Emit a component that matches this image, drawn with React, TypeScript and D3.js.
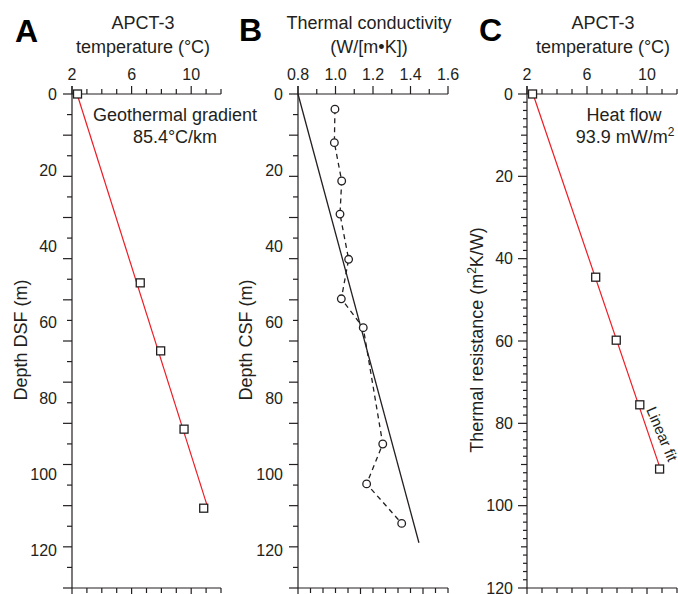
import React, { useRef, useEffect } from 'react';
import * as d3 from 'd3';

// tick labels
const tempTicks = [2, 6, 10];
const condTicks = [0.8, 1.0, 1.2, 1.4, 1.6];
const depthTicks = [0, 20, 40, 60, 80, 100, 120];
const resistTicks = [0, 20, 40, 60, 80, 100, 120];

// APCT-3 measurements
const apctTemp = [2.37, 6.58, 7.95, 9.52, 10.84];
const apctDepth = [0, 49.7, 67.6, 88.2, 109];
const apctResist = [0, 44.5, 59.8, 75.5, 91.1];

// fits
const gradientDepth = [0, 108.2];
const gradientTemp = [2.34, 11.06];
const heatResist = [0, 90.1];
const heatTemp = [2.4, 10.8];

// thermal conductivity
const condDepth = [4.0, 12.8, 22.9, 31.6, 43.5, 53.9, 61.5, 92.1, 102.6, 113.0];
const condValue = [0.997, 0.994, 1.033, 1.024, 1.07, 1.031, 1.148, 1.252, 1.166, 1.353];
const condFitDepth = [0, 118.1];
const condFitValue = [0.8, 1.445];

const INK = '#231f20';
const RED = '#ed1c24';
const FONT = '"Liberation Sans", Arial, Helvetica, sans-serif';

const TOP = 94;
const BOTTOM = 588;

const App = () => {
    const svgRef = useRef<SVGSVGElement>(null);

    useEffect(() => {
        const svg = d3.select(svgRef.current);
        svg.selectAll('*').remove();

        const depthY = d3.scaleLinear().domain([0, 130]).range([TOP, BOTTOM]);
        const resistY = d3.scaleLinear().domain([0, 120]).range([TOP, BOTTOM]);
        // the depth tick marks in A and B are spaced on their own grid
        const depthTickY = d3.scaleLinear().domain([0, 24]).range([TOP, BOTTOM]);

        const xA = d3.scaleLinear().domain([2, 12]).range([72, 221]);
        const xB = d3.scaleLinear().domain([0.8, 1.6]).range([298, 448]);
        const xC = d3.scaleLinear().domain([2, 12]).range([527, 677]);

        const line = (g, x1, y1, x2, y2, w = 1.2) =>
            g.append('line')
                .attr('x1', x1).attr('y1', y1).attr('x2', x2).attr('y2', y2)
                .attr('stroke', INK).attr('stroke-width', w);

        const text = (g, x, y, s, size = 18, anchor = 'middle') =>
            g.append('text')
                .attr('x', x).attr('y', y)
                .attr('text-anchor', anchor)
                .attr('font-size', size)
                .attr('fill', INK)
                .text(s);

        // horizontal axes (top with labels, bottom plain)
        const xAxes = (g, x, minor, labels, fmt, bottomTicks) => {
            const [x0, x1] = x.range();
            line(g, x0, TOP, x1, TOP);
            minor.forEach((v) => {
                const long = labels.some((l) => Math.abs(l - v) < 1e-6);
                line(g, x(v), TOP, x(v), TOP - (long ? 8 : 5));
            });
            labels.forEach((v) => text(g, x(v), 80, fmt(v), 16));
            line(g, x0, BOTTOM, x1, BOTTOM);
            bottomTicks.forEach(([px, long]) => line(g, px, BOTTOM, px, BOTTOM + (long ? 8 : 5)));
        };

        // ---------- panel A ----------
        const gA = svg.append('g');
        text(gA, 15, 42, 'A', 32, 'start').attr('font-weight', 'bold').attr('fill', '#000');
        text(gA, 143, 29, 'APCT-3');
        text(gA, 143, 53, 'temperature (°C)');
        xAxes(gA, xA, d3.range(2, 12.01, 1), tempTicks, (v) => String(v),
            d3.range(2, 12.01, 1).map((v) => [xA(v), tempTicks.includes(v)]));
        line(gA, 72, TOP - 8, 72, BOTTOM);
        d3.range(25).forEach((i) => line(gA, 72, depthTickY(i), 72 - (i % 2 === 0 ? 9 : 5), depthTickY(i)));
        depthTicks.forEach((v) => text(gA, 57, depthY(v), String(v), 16, 'end').attr('dy', '0.35em'));
        gA.append('text')
            .attr('transform', `translate(27,340) rotate(-90)`)
            .attr('text-anchor', 'middle').attr('font-size', 18).attr('fill', INK)
            .text('Depth DSF (m)');

        gA.append('path')
            .attr('d', d3.line()(gradientDepth.map((d, i) => [xA(gradientTemp[i]), depthY(d)])))
            .attr('stroke', RED).attr('stroke-width', 1.2).attr('fill', 'none');
        gA.selectAll('rect.pt').data(apctDepth).enter().append('rect')
            .attr('x', (d, i) => xA(apctTemp[i]) - 4).attr('y', (d) => depthY(d) - 4)
            .attr('width', 8).attr('height', 8)
            .attr('fill', '#fff').attr('stroke', INK).attr('stroke-width', 1.3);
        text(gA, 175, 121, 'Geothermal gradient');
        text(gA, 175, 143, '85.4°C/km');

        // ---------- panel B ----------
        const gB = svg.append('g');
        text(gB, 239, 41, 'B', 32, 'start').attr('font-weight', 'bold').attr('fill', '#000');
        text(gB, 369, 29, 'Thermal conductivity');
        text(gB, 369, 53, '(W/[m•K])');
        const bTicks = d3.scaleLinear().domain([0, 12]).range([298, 448]);
        xAxes(gB, xB, d3.range(8, 16.01, 1).map((v) => v / 10), condTicks, (v) => v.toFixed(1),
            d3.range(13).map((i) => [bTicks(i), i % 5 === 0]));
        line(gB, 298, TOP - 8, 298, BOTTOM);
        d3.range(25).forEach((i) => line(gB, 298, depthTickY(i), 298 - (i % 2 === 0 ? 9 : 5), depthTickY(i)));
        depthTicks.forEach((v) => text(gB, 283, depthY(v), String(v), 16, 'end').attr('dy', '0.35em'));
        gB.append('text')
            .attr('transform', `translate(252,340) rotate(-90)`)
            .attr('text-anchor', 'middle').attr('font-size', 18).attr('fill', INK)
            .text('Depth CSF (m)');

        gB.append('path')
            .attr('d', d3.line()(condFitDepth.map((d, i) => [xB(condFitValue[i]), depthY(d)])))
            .attr('stroke', INK).attr('stroke-width', 1.3).attr('fill', 'none');
        gB.append('path')
            .attr('d', d3.line()(condDepth.map((d, i) => [xB(condValue[i]), depthY(d)])))
            .attr('stroke', INK).attr('stroke-width', 1.3).attr('fill', 'none')
            .attr('stroke-dasharray', '5,4');
        gB.selectAll('circle.pt').data(condDepth).enter().append('circle')
            .attr('cx', (d, i) => xB(condValue[i])).attr('cy', (d) => depthY(d))
            .attr('r', 3.8)
            .attr('fill', '#fff').attr('stroke', INK).attr('stroke-width', 1.3);

        // ---------- panel C ----------
        const gC = svg.append('g');
        text(gC, 479, 41, 'C', 32, 'start').attr('font-weight', 'bold').attr('fill', '#000');
        text(gC, 603, 29, 'APCT-3');
        text(gC, 603, 53, 'temperature (°C)');
        xAxes(gC, xC, d3.range(2, 12.01, 1), tempTicks, (v) => String(v),
            d3.range(2, 12.01, 1).map((v) => [xC(v), tempTicks.includes(v)]));
        line(gC, 527, TOP - 8, 527, BOTTOM);
        d3.range(0, 120.01, 2).forEach((v) => {
            const len = v % 20 === 0 ? 9 : v % 10 === 0 ? 6 : 4;
            line(gC, 527, resistY(v), 527 - len, resistY(v));
        });
        resistTicks.forEach((v) => text(gC, 513, resistY(v), String(v), 16, 'end').attr('dy', '0.35em'));
        const lab = gC.append('text')
            .attr('transform', `translate(483,340) rotate(-90)`)
            .attr('text-anchor', 'middle').attr('font-size', 18).attr('fill', INK);
        lab.append('tspan').text('Thermal resistance (m');
        lab.append('tspan').attr('font-size', 12).attr('dy', -7).text('2');
        lab.append('tspan').attr('dy', 7).text('K/W)');

        gC.append('path')
            .attr('d', d3.line()(heatResist.map((d, i) => [xC(heatTemp[i]), resistY(d)])))
            .attr('stroke', RED).attr('stroke-width', 1.2).attr('fill', 'none');
        gC.selectAll('rect.pt').data(apctResist).enter().append('rect')
            .attr('x', (d, i) => xC(apctTemp[i]) - 4).attr('y', (d) => resistY(d) - 4)
            .attr('width', 8).attr('height', 8)
            .attr('fill', '#fff').attr('stroke', INK).attr('stroke-width', 1.3);
        text(gC, 624, 121, 'Heat flow');
        const hf = text(gC, 625, 143, '93.9 mW/m');
        hf.append('tspan').attr('font-size', 12).attr('dy', -7).text('2');
        gC.append('text')
            .attr('transform', `translate(662,434) rotate(67)`)
            .attr('text-anchor', 'middle').attr('dy', '0.35em')
            .attr('font-size', 15).attr('fill', INK)
            .text('Linear fit');
    }, []);

    return (
        <svg
            ref={svgRef}
            width={678}
            height={594}
            style={{ position: 'absolute', left: 0, top: 0, background: '#fff', fontFamily: FONT }}
        ></svg>
    );
};

export default App;
